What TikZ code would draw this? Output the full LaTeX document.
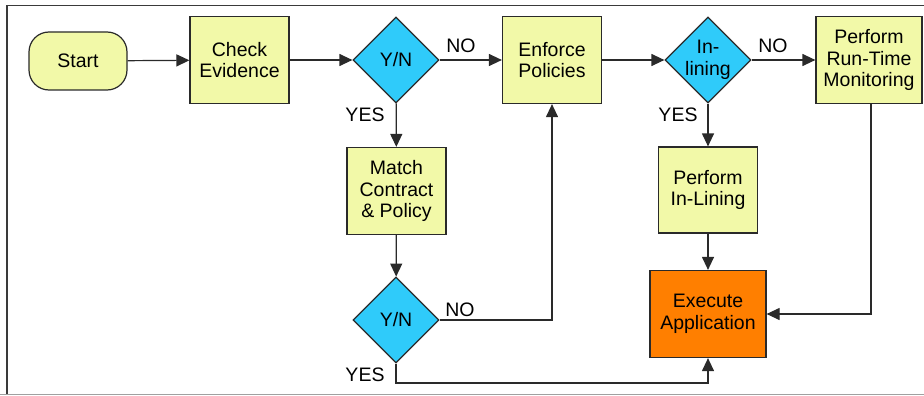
\documentclass[tikz,border=0pt]{standalone}
\usepackage{fontspec}
\setmainfont{Liberation Sans}
\usetikzlibrary{shapes.geometric,arrows.meta}
\definecolor{boxy}{HTML}{F2F9A8}
\definecolor{diam}{HTML}{2FCBFA}
\definecolor{orng}{HTML}{FF7F00}
\definecolor{edge}{HTML}{2A2A2A}
\definecolor{frametop}{HTML}{3A3A3A}
\definecolor{framebot}{HTML}{A0A0A0}
\begin{document}
\begin{tikzpicture}[x=1pt,y=-1pt,
  font=\fontsize{19.5}{21.7}\selectfont,
  box/.style={draw=edge, line width=1.2pt, fill=boxy, minimum width=99pt, minimum height=87pt, align=center, inner sep=0pt},
  decide/.style={draw=edge, line width=1.2pt, fill=diam, shape=diamond, minimum width=86pt, minimum height=86pt, align=center, inner sep=0pt},
  term/.style={draw=edge, line width=1.2pt, fill=boxy, rounded corners=20pt, minimum width=98pt, minimum height=58pt, inner sep=0pt},
  conn/.style={draw=edge, line width=1.2pt, -{Triangle[length=13pt,width=12pt]}},
  lbl/.style={inner sep=0pt}]
\useasboundingbox (0,0) rectangle (924,396);
% frame
\draw[frametop, line width=1.2pt] (924,5.5) -- (7,5.5) -- (7,394);
\draw[framebot, line width=1.5pt] (0,394.5) -- (924,394.5);
% nodes
\node[term] (start) at (78,61) {Start};
\node[box] (check) at (239.5,60) {Check\\Evidence};
\node[decide] (d1) at (396,60) {Y/N};
\node[box] (enf) at (552,60) {Enforce\\Policies};
\node[decide] (d3) at (708,60) {In-\\lining};
\node[box, minimum width=106pt] (rt) at (869,60) {Perform\\Run-Time\\Monitoring};
\node[box] (match) at (396.5,191) {Match\\Contract\\\& Policy};
\node[decide] (d2) at (396,320) {Y/N};
\node[box, minimum height=86pt] (pil) at (708,190) {Perform\\In-Lining};
\node[box, fill=orng, minimum width=116pt] (exe) at (708,314) {Execute\\Application};
% labels
\node[lbl] (no1) at (461,46) {NO};
\node[lbl] (yes1) at (365,115) {YES};
\node[lbl] (no2) at (773,46) {NO};
\node[lbl] (yes2) at (678,115) {YES};
\node[lbl] (no3) at (460,310) {NO};
\node[lbl] (yes3) at (365,375) {YES};
% connectors
\coordinate (c1) at (396,383);
\coordinate (c2) at (708,383);
\draw[conn] (start) -- (check);
\draw[conn] (check) -- (d1);
\draw[conn] (d1) -- (enf);
\draw[conn] (d1) -- (match);
\draw[conn] (match) -- (d2);
\draw[conn] (d2.east) -| (enf.south);
\draw[conn] (d2.south) -- (c1) -- (c2) -- (exe.south);
\draw[conn] (enf) -- (d3);
\draw[conn] (d3) -- (rt);
\draw[conn] (d3) -- (pil);
\draw[conn] (pil) -- (exe);
\draw[conn] ([xshift=2pt]rt.south) |- (exe.east);
\end{tikzpicture}
\end{document}
